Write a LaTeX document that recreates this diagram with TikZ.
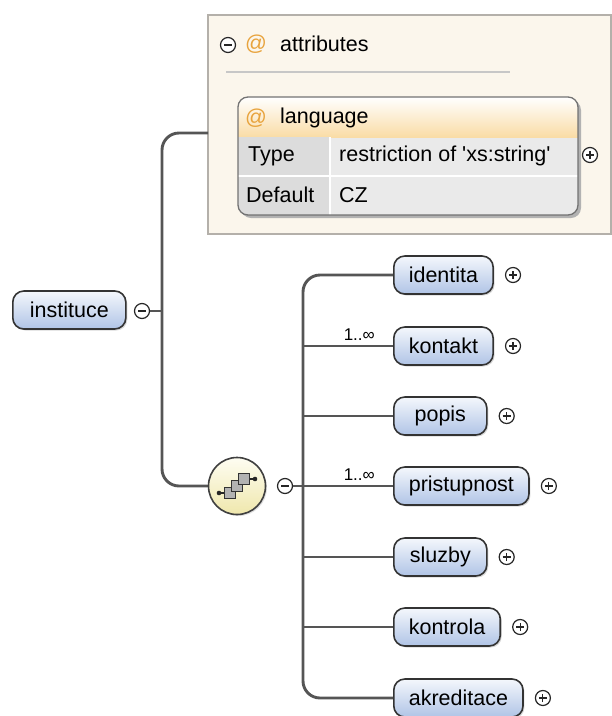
\documentclass[tikz,border=0pt]{standalone}
\usepackage{fontspec}
\setmainfont{Liberation Sans}
\usetikzlibrary{positioning,shadows}
\definecolor{elemtop}{HTML}{F4F7FC}
\definecolor{elembot}{HTML}{B0C4E6}
\definecolor{linkgray}{HTML}{555555}
\definecolor{attrfill}{HTML}{FBF6EC}
\definecolor{attrline}{HTML}{B4B0AA}
\definecolor{atsign}{HTML}{E8A33C}
\definecolor{headbot}{HTML}{FADCA6}
\definecolor{rowfill}{HTML}{EAEAEA}
\definecolor{keyfill}{HTML}{DCDCDC}
\definecolor{seqtop}{HTML}{FEFDF2}
\definecolor{seqbot}{HTML}{EFE7AC}

\begin{document}
\begin{tikzpicture}[x=1pt, y=-1pt,
		txt/.style={font=\fontsize{21.5}{24}\selectfont, inner sep=0pt},
		elem/.style={txt, draw=black!80, line width=1.6pt, rounded corners=11pt, top color=elemtop, bottom color=elembot, minimum height=38pt, minimum width=93pt, inner xsep=15pt, anchor=west, drop shadow={shadow xshift=1.5pt, shadow yshift=-1.5pt, opacity=.3}},
		link/.style={draw=linkgray, line width=2.9pt, rounded corners=17pt},
		btn/.style={circle, draw=black!85, line width=1.2pt, fill=white, minimum size=15pt, inner sep=0pt},
		plusbtn/.style={btn, path picture={\draw[line width=1.1pt] ([xshift=-4pt]path picture bounding box.center) -- ([xshift=4pt]path picture bounding box.center) ([yshift=-4pt]path picture bounding box.center) -- ([yshift=4pt]path picture bounding box.center);}},
		minusbtn/.style={btn, path picture={\draw[line width=1.1pt] ([xshift=-4pt]path picture bounding box.center) -- ([xshift=4pt]path picture bounding box.center);}},
		mult/.style={font=\fontsize{17}{19}\selectfont, inner sep=0pt, anchor=south east}
	]
	\useasboundingbox (0,0) rectangle (612,716);
	\fill[white] (0,0) rectangle (612,716);

	% attributes panel
	\draw[fill=attrfill, draw=attrline, line width=1.4pt] (208,15) rectangle (611,234);
	\node[minusbtn] (attrs-minus) at (228,45) {};
	\node[txt, text=atsign] (attrs-at) at (256,44) {@};
	\node[txt, anchor=west] (attrs) at (280,44) {attributes};
	\draw[black!22, line width=1.5pt] (226,72) -- (510,72);

	% language attribute
	\fill[black!30, rounded corners=10pt] (241,100) rectangle (581,218);
	\begin{scope}
		\clip[rounded corners=10pt] (238,97) rectangle (578,215);
		\fill[rowfill] (238,97) rectangle (578,215);
		\shade[top color=white, bottom color=headbot] (238,97) rectangle (578,137);
		\fill[keyfill] (238,137) rectangle (330,215);
		\draw[white, line width=1.5pt] (238,176) -- (578,176);
		\draw[white, line width=1.5pt] (330,137) -- (330,215);
	\end{scope}
	\draw[draw=black!55, line width=1.3pt, rounded corners=10pt] (238,97) rectangle (578,215);
	\node[txt, text=atsign] (lang-at) at (256,118) {@};
	\node[txt, anchor=west] (lang) at (280,118) {language};
	\node[txt, anchor=west] (type-key) at (248,156) {Type};
	\node[txt, anchor=west] (type-val) at (339,156) {restriction of \textquotesingle xs:string\textquotesingle};
	\node[txt, anchor=west] (def-key) at (246,195) {Default};
	\node[txt, anchor=west] (def-val) at (339,195) {CZ};
	\node[plusbtn] (lang-plus) at (590,155) {};

	% root element
	\node[elem, minimum width=113pt] (instituce) at (12,310) {instituce};
	\node[minusbtn] (inst-minus) at (142,311) {};
	\coordinate (attrs-in) at (208,133);
	\coordinate (spine) at (162,311);
	\node[circle, minimum size=57pt] (seq) at (237,486) {};
	\draw[link] (inst-minus.east) -- (spine);
	\draw[link] (attrs-in) -| (spine) |- (seq.west);

	% sequence compositor
	\node[circle, draw=black!75, line width=1.6pt, top color=seqtop, bottom color=seqbot, minimum size=57pt, drop shadow={shadow xshift=1.5pt, shadow yshift=-1.5pt, opacity=.25}] at (seq) {};
	\begin{scope}[shift={(seq.center)}]
		\draw[black!85, line width=1.2pt] (-18,7) -- (-9,7) (9,-7) -- (18,-7);
		\fill[black!85] (-18,7) circle (2.3) (18,-7) circle (2.3);
		\foreach \d in {7,0,-7}
			\draw[black!80, line width=1.1pt, fill=black!30] (-\d-5.5,\d-5.5) rectangle (-\d+5.5,\d+5.5);
	\end{scope}
	\node[minusbtn] (seq-minus) at (285,486) {};
	\coordinate (bus) at (303,486);
	\draw[link] (seq-minus.east) -- (bus);

	% child elements
	\node[elem] (identita) at (393,275) {identita};
	\node[elem] (kontakt) at (393,346) {kontakt};
	\node[elem] (popis) at (393,416) {popis};
	\node[elem] (pristupnost) at (393,486) {pristupnost};
	\node[elem] (sluzby) at (393,557) {sluzby};
	\node[elem] (kontrola) at (393,627) {kontrola};
	\node[elem] (akreditace) at (393,698) {akreditace};

	\draw[link] (identita.west) -| (bus) |- (akreditace.west);
	\foreach \n in {kontakt,popis,pristupnost,sluzby,kontrola}
		\draw[link] (\n.west) -- (\n.west -| bus);
	\foreach \n in {identita,kontakt,popis,pristupnost,sluzby,kontrola,akreditace}
		\node[plusbtn, right=11pt of \n.east] (\n-plus) {};

	\node[mult, above left=5pt and 18pt of kontakt.west] (kontakt-mult) {1..∞};
	\node[mult, above left=5pt and 18pt of pristupnost.west] (pristupnost-mult) {1..∞};
\end{tikzpicture}
\end{document}
